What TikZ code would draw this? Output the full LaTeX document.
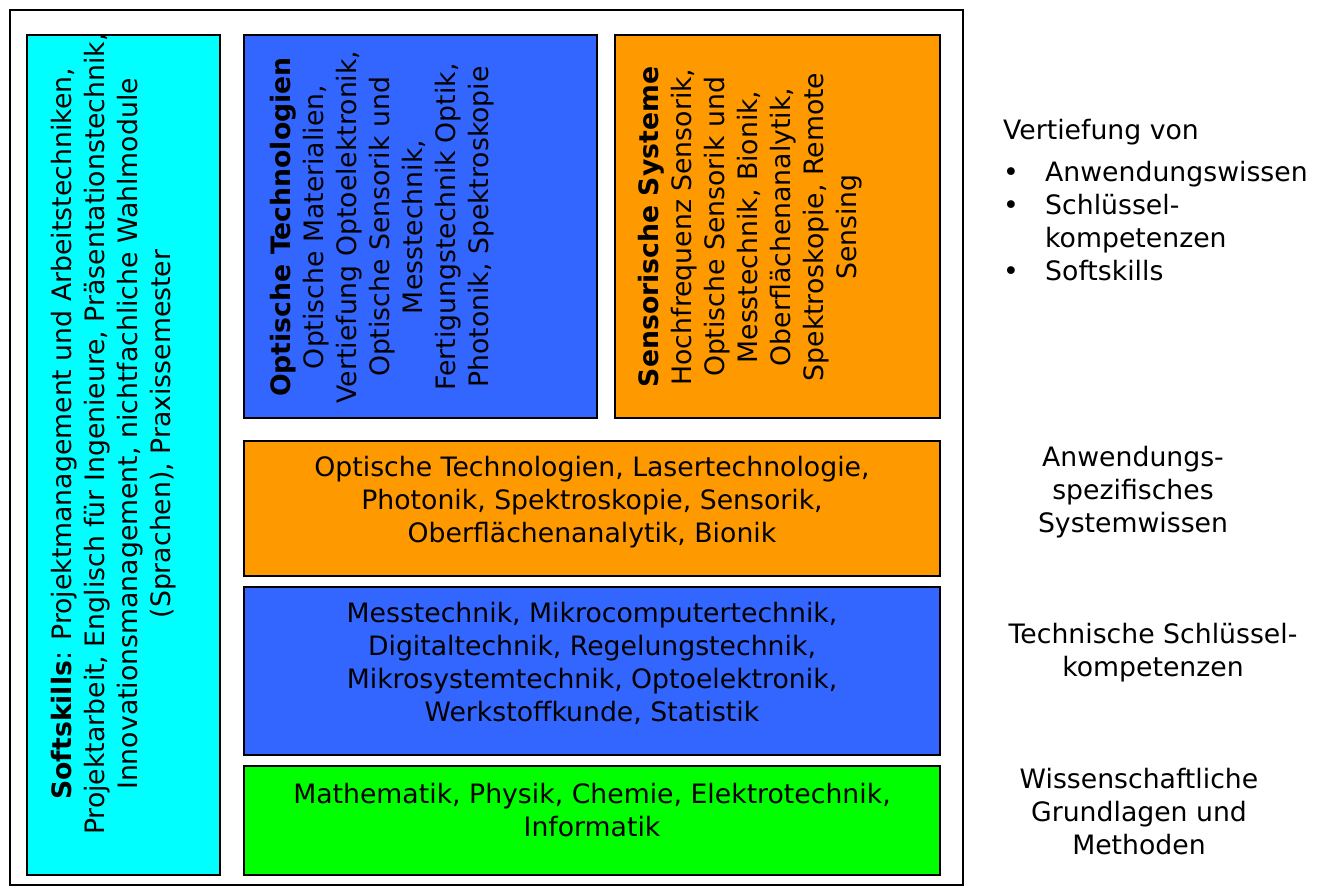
\documentclass[tikz,border=0pt]{standalone}
\usepackage{fontspec}
\setmainfont{DejaVu Sans}
\definecolor{cyanbox}{HTML}{00FFFF}
\definecolor{bluebox}{HTML}{3366FF}
\definecolor{orangebox}{HTML}{FF9900}
\definecolor{greenbox}{HTML}{00FF00}
\begin{document}
\begin{tikzpicture}[x=1pt,y=-1pt,
  panel/.style={draw=black,line width=1.6pt},
  txt/.style={align=center,font=\fontsize{26.7}{33}\selectfont,inner sep=0pt},
  side/.style={align=center,font=\fontsize{26.7}{33}\selectfont,inner sep=0pt}]
\useasboundingbox (0,0) rectangle (1321,893);
\fill[white] (0,0) rectangle (1321,893);
\draw[line width=1.6pt] (10,10) rectangle (963,885);
% boxes
\draw[panel,fill=cyanbox] (27,35) rectangle (220,875);
\draw[panel,fill=bluebox] (244,35) rectangle (597,418);
\draw[panel,fill=orangebox] (615,35) rectangle (940,418);
\draw[panel,fill=orangebox] (244,441) rectangle (940,576);
\draw[panel,fill=bluebox] (244,587) rectangle (940,755);
\draw[panel,fill=greenbox] (244,766) rectangle (940,875);
% texts
\node[txt,rotate=90] (soft) at (114,434) {\textbf{Softskills}: Projektmanagement und Arbeitstechniken,\\Projektarbeit, Englisch für Ingenieure, Präsentationstechnik,\\Innovationsmanagement, nichtfachliche Wahlmodule\\(Sprachen), Praxissemester};
\node[txt,rotate=90] (opt) at (382,227) {\textbf{Optische Technologien}\\Optische Materialien,\\Vertiefung Optoelektronik,\\Optische Sensorik und\\Messtechnik,\\Fertigungstechnik Optik,\\Photonik, Spektroskopie};
\node[txt,rotate=90] (sens) at (750,227) {\textbf{Sensorische Systeme}\\Hochfrequenz Sensorik,\\Optische Sensorik und\\Messtechnik, Bionik,\\Oberflächenanalytik,\\Spektroskopie, Remote\\Sensing};
\node[txt] (anw) at (592,502) {Optische Technologien, Lasertechnologie,\\Photonik, Spektroskopie, Sensorik,\\Oberflächenanalytik, Bionik};
\node[txt] (tech) at (592,663) {Messtechnik, Mikrocomputertechnik,\\Digitaltechnik, Regelungstechnik,\\Mikrosystemtechnik, Optoelektronik,\\Werkstoffkunde, Statistik};
\node[txt] (math) at (592,810) {Mathematik, Physik, Chemie, Elektrotechnik,\\Informatik};
% right side
\node[side,anchor=west] (vert) at (1003,132) {Vertiefung von};
\node[side,anchor=west,align=left] (list) at (1003,224) {%
\begin{tabular}{@{}p{42pt}@{}l@{}}
\textbullet & Anwendungswissen\\
\textbullet & Schlüssel-\\
 & kompetenzen\\
\textbullet & Softskills
\end{tabular}};
\node[side] (sys) at (1133,492) {Anwendungs-\\spezifisches\\Systemwissen};
\node[side] (schl) at (1153,653) {Technische Schlüssel-\\kompetenzen};
\node[side] (wiss) at (1139,812) {Wissenschaftliche\\Grundlagen und\\Methoden};
\end{tikzpicture}
\end{document}
